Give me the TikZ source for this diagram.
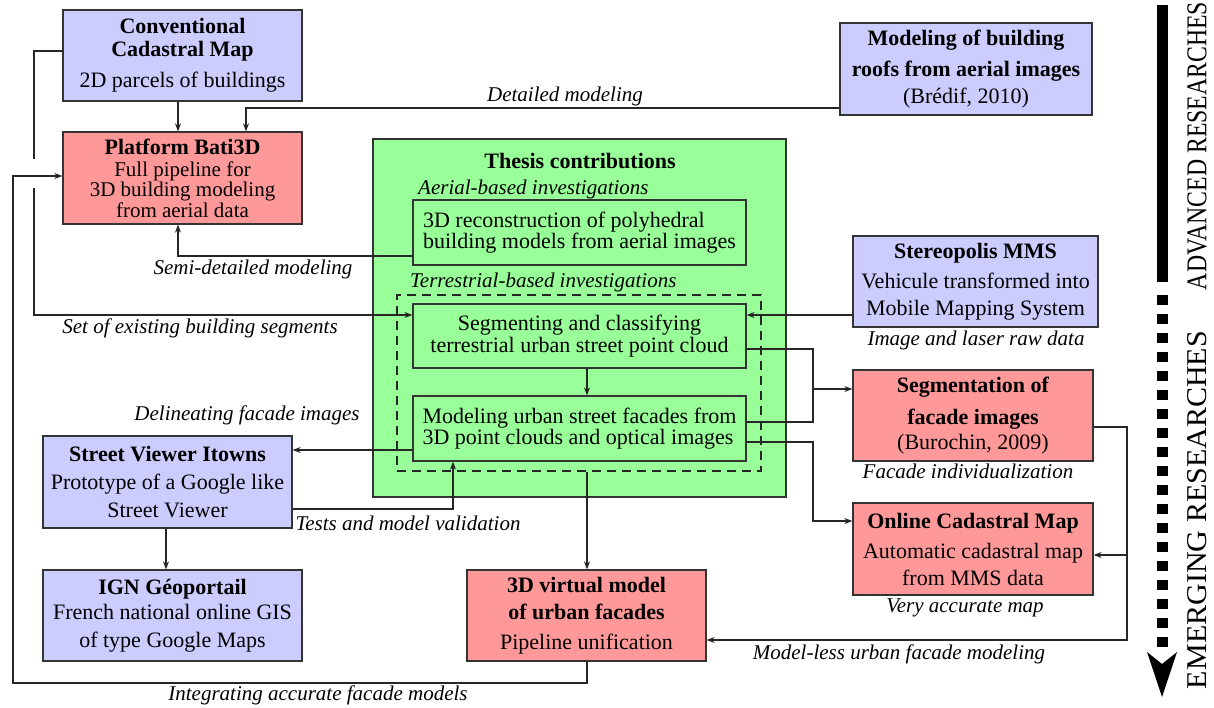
\documentclass[tikz,border=0pt]{standalone}
\usepackage{fontspec}
\setmainfont{Liberation Serif}
\usepackage{graphicx}
\usetikzlibrary{arrows.meta}
\definecolor{bbox}{HTML}{CCCCFF}
\definecolor{rbox}{HTML}{FF9999}
\definecolor{gbox}{HTML}{99FF99}
\definecolor{edgec}{HTML}{333333}
\newcommand{\boxfont}{\fontsize{22}{20}\selectfont\lineskiplimit=-30pt\relax}
\newcommand{\tightfont}{\fontsize{21}{20}\selectfont}
\begin{document}
\begin{tikzpicture}[x=1pt,y=-1pt,
  box/.style={draw=edgec, line width=1.3pt, inner sep=0pt, align=center, font=\boxfont},
  bluebox/.style={box, fill=bbox},
  redbox/.style={box, fill=rbox},
  greenbox/.style={box, fill=gbox},
  inbox/.style={draw=edgec, line width=1.2pt, inner sep=0pt, font=\boxfont},
  lab/.style={font=\fontsize{21}{21}\selectfont\itshape, inner sep=0pt},
  conn/.style={draw=black!85, line width=1.1pt},
  arr/.style={conn, -{Stealth[length=8pt,width=6pt]}},
]
\fill[white] (0,0) rectangle (1214,708);
\useasboundingbox (0,0) rectangle (1214,708);

% boxes
\node[bluebox, minimum width=239pt, minimum height=91pt] (conv) at (182.5,55.5)
  {\textbf{Conventional}\\[3pt]\textbf{Cadastral Map}\\[11pt]2D parcels of buildings};
\node[redbox, minimum width=239pt, minimum height=92pt] (bati) at (182.5,178)
  {\textbf{Platform Bati3D}\\[2pt]{\tightfont Full pipeline for}\\[0pt]{\tightfont 3D building modeling}\\[1pt]{\tightfont from aerial data}};
\node[bluebox, minimum width=252pt, minimum height=92pt] (roofs) at (966,69)
  {\textbf{Modeling of building}\\[11pt]\textbf{roofs from aerial images}\\[7pt](Brédif, 2010)};
\node[greenbox, minimum width=413pt, minimum height=358pt] (thesis) at (579.5,318) {};
\node[font=\fontsize{22}{22}\selectfont\bfseries, inner sep=0pt] (thesistitle) at (580,161) {Thesis contributions};
\node[lab, anchor=west] (aeriallab) at (418,189) {Aerial-based investigations};
\node[inbox, minimum width=333pt, minimum height=65pt, align=left] (aerial) at (579.5,232.5)
  {3D reconstruction of polyhedral\\[1pt]building models from aerial images};
\node[lab, anchor=west] (terrlab) at (410,282) {Terrestrial-based investigations};
\node[draw=black!85, dash pattern=on 9pt off 6pt, line width=1.1pt, minimum width=364pt, minimum height=176pt, inner sep=0pt] (terr) at (579,383) {};
\node[inbox, minimum width=333pt, minimum height=64pt, align=center] (seg) at (579.5,336)
  {Segmenting and classifying\\[2pt]terrestrial urban street point cloud};
\node[inbox, minimum width=333pt, minimum height=65pt, align=left] (model) at (579.5,428.5)
  {Modeling urban street facades from\\[1pt]3D point clouds and optical images};
\node[bluebox, minimum width=245pt, minimum height=91pt] (stereo) at (975.5,281.5)
  {\textbf{Stereopolis MMS}\\[10pt]Vehicule transformed into\\[7pt]Mobile Mapping System};
\node[redbox, minimum width=240pt, minimum height=91pt] (segm) at (973,415.5)
  {\textbf{Segmentation of}\\[12pt]\textbf{facade images}\\[5pt](Burochin, 2009)};
\node[redbox, minimum width=240pt, minimum height=92pt] (online) at (973,549)
  {\textbf{Online Cadastral Map}\\[10pt]Automatic cadastral map\\[7pt]from MMS data};
\node[redbox, minimum width=239pt, minimum height=91pt] (virt) at (586.5,615.5)
  {\textbf{3D virtual model}\\[7pt]\textbf{of urban facades}\\[10pt]Pipeline unification};
\node[bluebox, minimum width=249pt, minimum height=92pt] (street) at (167.5,482)
  {\textbf{Street Viewer Itowns}\\[8pt]Prototype of a Google like\\[8pt]Street Viewer};
\node[bluebox, minimum width=259pt, minimum height=91pt] (ign) at (172.5,615.5)
  {\textbf{IGN Géoportail}\\[5pt]French national online GIS\\[8pt]of type Google Maps};

% waypoints
\coordinate (c1) at (34,159);
\coordinate (c2) at (34,188);
\coordinate (h1) at (813,422);
\coordinate (h2) at (813,389);
\coordinate (k1) at (813,521);
\coordinate (n1) at (1127,640);
\coordinate (n2) at (1127,555);
\coordinate (d1) at (13,683);

% connectors
\draw[arr] (178,0 |- conv.south) -- (178,0 |- bati.north);
\draw[arr] (roofs.west |- 0,108) -| (246,0 |- bati.north);
\draw[conn] (conv.west |- 0,51) -| (c1);
\draw[arr] (c2) |- (seg.west |- 0,315);
\draw[arr] (587,0 |- virt.south) |- (d1) |- (bati.west |- 0,176);
\draw[arr] (aerial.west |- 0,256) -| (178,0 |- bati.south);
\draw[arr] (stereo.west |- 0,315) -- (seg.east |- 0,315);
\draw[arr] (587,0 |- seg.south) -- (587,0 |- model.north);
\draw[conn] (seg.east |- 0,349) -| (h1) -- (model.east |- h1);
\draw[arr] (h2) -- (segm.west |- h2);
\draw[arr] (model.east |- 0,442) -| (k1) -- (online.west |- k1);
\draw[arr] (model.west |- 0,450) -- (street.east |- 0,450);
\draw[arr] (street.east |- 0,509) -| (453,0 |- model.south);
\draw[arr] (166,0 |- street.south) -- (166,0 |- ign.north);
\draw[arr] (587,0 |- terr.south) -- (587,0 |- virt.north);
\draw[arr] (segm.east |- 0,427) -| (n1) -- (virt.east |- n1);
\draw[arr] (n2) -- (online.east |- n2);

% labels
\node[lab] (l1) at (565,96) {Detailed modeling};
\node[lab] (l2) at (253,269) {Semi-detailed modeling};
\node[lab] (l3) at (200,328) {Set of existing building segments};
\node[lab] (l4) at (247,415) {Delineating facade images};
\node[lab] (l5) at (408,523) {Tests and model validation};
\node[lab] (l6) at (318,695) {Integrating accurate facade models};
\node[lab] (l7) at (976,340) {Image and laser raw data};
\node[lab] (l8) at (968,471) {Facade individualization};
\node[lab] (l9) at (965,608) {Very accurate map};
\node[lab] (l10) at (899,654) {Model-less urban facade modeling};

% research axis
\draw[line width=11pt] (1162,5) -- (1162,282);
\draw[line width=11pt, dash pattern=on 10pt off 9pt] (1162,295) -- (1162,652);
\fill (1147,652) -- (1162,697) -- (1177,652) -- (1162,664) -- cycle;
\node[rotate=90, inner sep=0pt] (adv) at (1197,146)
  {\resizebox{288pt}{19pt}{\fontsize{20}{20}\selectfont ADVANCED RESEARCHES}};
\node[rotate=90, inner sep=0pt] (emg) at (1197,510)
  {\resizebox{358pt}{19pt}{\fontsize{20}{20}\selectfont EMERGING RESEARCHES}};
\end{tikzpicture}
\end{document}
